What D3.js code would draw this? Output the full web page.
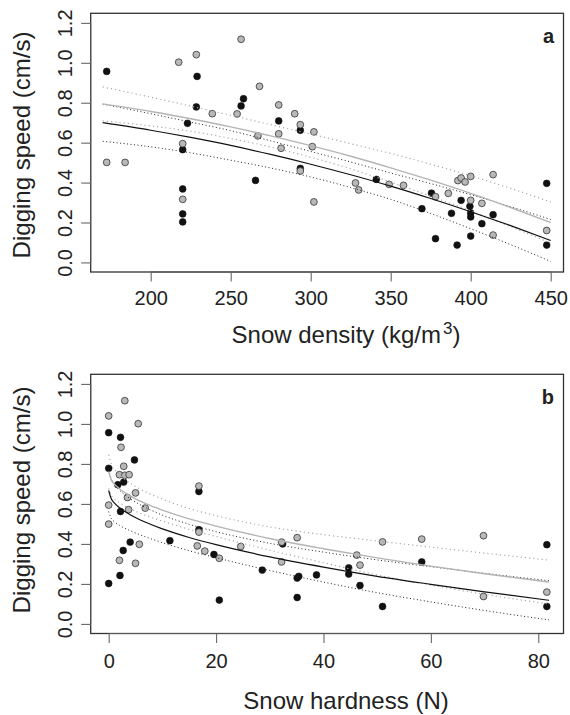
<!DOCTYPE html>
<html>
<head>
<meta charset="utf-8">
<style>
  body { margin: 0; background: #fff; }
  text { font-family: "Liberation Sans", Arial, sans-serif; fill: #222; }
</style>
</head>
<body>
<svg id="chart" width="570" height="715"></svg>
<script src="https://cdn.jsdelivr.net/npm/d3@7"></script>
<script>
// panel a: snow density (kg/m3) vs digging speed (cm/s)
var densBlack = [[172.5,0.957],[229,0.932],[228.5,0.779],[223,0.697],[220,0.565],[220,0.368],[220,0.243],[220,0.203],
  [258,0.82],[256.5,0.784],[280,0.709],[293.5,0.662],[293.5,0.471],[265.5,0.411],[341,0.416],[375.5,0.347],
  [369.5,0.269],[378,0.119],[388,0.246],[394,0.311],[391.5,0.087],[399.5,0.281],[400,0.248],[400,0.228],
  [400,0.132],[407,0.194],[414,0.239],[447.5,0.396],[447.5,0.087]];
var densGray = [[172.5,0.501],[184,0.501],[217.5,1.003],[228.5,1.041],[256.5,1.118],[268,0.882],[238.5,0.745],
  [254,0.744],[220,0.595],[220,0.316],[267,0.634],[280,0.789],[280,0.644],[281.5,0.572],[290,0.745],[293.5,0.69],
  [302,0.654],[301,0.58],[293.5,0.458],[302,0.303],[328,0.398],[330,0.363],[349,0.391],[358,0.386],[378,0.329],
  [386,0.346],[392,0.41],[394,0.423],[396.5,0.403],[400,0.431],[400,0.311],[407,0.296],[414,0.44],[414,0.137],
  [447.5,0.16]];
var densFitX    = [170,200,225,250,275,300,325,350,375,400,425,450];
var densBlackFit = [0.700,0.662,0.626,0.586,0.541,0.492,0.439,0.382,0.320,0.254,0.184,0.110];
var densBlackUp  = [0.793,0.745,0.703,0.660,0.609,0.556,0.503,0.448,0.395,0.339,0.279,0.215];
var densBlackLo  = [0.607,0.579,0.549,0.512,0.473,0.428,0.375,0.316,0.245,0.169,0.089,0.005];
var densGrayFit  = [0.794,0.756,0.720,0.679,0.634,0.585,0.532,0.474,0.412,0.346,0.275,0.200];
var densGrayUp   = [0.879,0.828,0.783,0.737,0.690,0.643,0.595,0.546,0.492,0.434,0.371,0.303];
var densGrayLo   = [0.709,0.684,0.657,0.621,0.578,0.527,0.469,0.402,0.332,0.258,0.179,0.097];
var densTicks = [200,250,300,350,400,450];

// panel b: snow hardness (N) vs digging speed (cm/s)
var hardBlack = [[0,0.956],[2.2,0.933],[4.8,0.82],[0,0.778],[1.7,0.696],[2.8,0.709],[2.2,0.562],[4.0,0.409],
  [2.7,0.367],[2.1,0.242],[0,0.202],[11.4,0.416],[16.8,0.662],[16.8,0.471],[19.6,0.347],[20.6,0.119],[28.6,0.269],
  [32.4,0.40],[35.1,0.229],[35.4,0.238],[35.1,0.132],[38.7,0.245],[44.7,0.28],[44.7,0.249],[46.8,0.192],
  [51.0,0.087],[58.3,0.31],[81.6,0.396],[81.6,0.087]];
var hardGray = [[0,1.04],[3.0,1.116],[5.5,1.001],[2.3,0.883],[2.8,0.788],[2.0,0.746],[3.0,0.743],[3.8,0.746],
  [5.0,0.655],[3.5,0.632],[0,0.594],[3.7,0.571],[6.8,0.579],[0,0.499],[2.0,0.318],[5.7,0.398],[5.0,0.303],
  [16.8,0.689],[16.8,0.459],[16.5,0.39],[17.9,0.364],[20.6,0.328],[24.6,0.387],[32.2,0.409],[35.1,0.431],
  [32.2,0.31],[46.2,0.344],[46.8,0.294],[51.0,0.41],[58.3,0.424],[69.8,0.441],[69.8,0.137],[81.6,0.159]];
var hardFitX     = [0,0.5,1,2,4,7,10,15,20,30,40,50,60,70,82];
var hardBlackFit = [0.667,0.624,0.606,0.581,0.546,0.507,0.475,0.432,0.396,0.335,0.284,0.238,0.198,0.160,0.118];
var hardBlackUp  = [0.772,0.722,0.700,0.669,0.626,0.580,0.544,0.498,0.461,0.403,0.359,0.320,0.286,0.253,0.216];
var hardBlackLo  = [0.562,0.526,0.512,0.493,0.466,0.434,0.406,0.366,0.331,0.267,0.209,0.156,0.110,0.067,0.020];
var hardGrayFit  = [0.762,0.719,0.701,0.676,0.640,0.600,0.569,0.525,0.489,0.427,0.376,0.330,0.289,0.251,0.209];
var hardGrayUp   = [0.846,0.797,0.776,0.746,0.704,0.659,0.624,0.577,0.541,0.485,0.446,0.415,0.384,0.354,0.319];
var hardGrayLo   = [0.678,0.641,0.626,0.606,0.576,0.541,0.514,0.473,0.437,0.369,0.306,0.245,0.194,0.148,0.099];
var hardTicks = [0,20,40,60,80];

var speedTicks = [0,0.2,0.4,0.6,0.8,1.0,1.2];

var svg = d3.select('#chart');
var left = 90.7, right = 563.5;

function panel(p) {
  var x = d3.scaleLinear().domain(p.xDomain).range([left, right]);
  var y = d3.scaleLinear().domain([-0.048, 1.248]).range([p.bottom, p.top]);
  var g = svg.append('g');

  // points: black first, grey on top
  g.selectAll('.blk').data(p.black).enter().append('circle')
    .attr('cx', function(d) { return x(d[0]); })
    .attr('cy', function(d) { return y(d[1]); })
    .attr('r', 3.4)
    .style('fill', '#111').style('stroke', '#111').style('stroke-width', 0.6);
  g.selectAll('.gry').data(p.gray).enter().append('circle')
    .attr('cx', function(d) { return x(d[0]); })
    .attr('cy', function(d) { return y(d[1]); })
    .attr('r', 3.4)
    .style('fill', '#b8b8b8').style('stroke', '#333').style('stroke-width', 0.8);

  // fitted curves and intervals
  var curves = [
    {v: p.grayUp, c: '#aaa', w: 1.2, dash: '1.2,3'},
    {v: p.grayLo, c: '#aaa', w: 1.2, dash: '1.2,3'},
    {v: p.blackUp, c: '#222', w: 1, dash: '1,2.5'},
    {v: p.blackLo, c: '#222', w: 1, dash: '1,2.5'},
    {v: p.grayFit, c: '#b4b4b4', w: 1.4, dash: null},
    {v: p.blackFit, c: '#111', w: 1.2, dash: null}
  ];
  var line = d3.line()
    .x(function(d, i) { return x(p.fitX[i]); })
    .y(function(d) { return y(d); })
    .curve(d3.curveMonotoneX);
  curves.forEach(function(cv) {
    g.append('path').attr('d', line(cv.v))
      .style('fill', 'none').style('stroke', cv.c).style('stroke-width', cv.w)
      .style('stroke-dasharray', cv.dash);
  });

  // box
  g.append('rect').attr('x', left).attr('y', p.top)
    .attr('width', right - left).attr('height', p.bottom - p.top)
    .style('fill', 'none').style('stroke', '#333').style('stroke-width', 1.3);

  // x axis
  var xa = g.append('g').attr('transform', 'translate(0,' + p.bottom + ')')
    .call(d3.axisBottom(x).tickValues(p.xTicks).tickSize(9.5).tickPadding(p.xPad).tickFormat(d3.format('d')));
  xa.select('.domain').attr('stroke', '#555').attr('d', 'M' + x(p.xTicks[0]) + ',0H' + x(p.xTicks[p.xTicks.length - 1]));
  xa.selectAll('.tick line').attr('stroke', '#666').attr('stroke-width', 1.1);
  xa.selectAll('.tick text').style('font-size', '20px').attr('fill', '#222')
    .style('font-family', '"Liberation Sans", Arial, sans-serif');

  // y axis, labels parallel to the axis
  var ya = g.append('g').attr('transform', 'translate(' + left + ',0)')
    .call(d3.axisLeft(y).tickValues(speedTicks).tickSize(9.5).tickFormat(d3.format('.1f')));
  ya.select('.domain').attr('stroke', '#555').attr('d', 'M0,' + y(0) + 'V' + y(1.2));
  ya.selectAll('.tick line').attr('stroke', '#666').attr('stroke-width', 1.1);
  ya.selectAll('.tick text')
    .attr('x', 0).attr('y', -19).attr('dy', 0)
    .attr('transform', 'rotate(-90)')
    .attr('text-anchor', 'middle').attr('fill', '#222')
    .style('font-size', '20px')
    .style('font-family', '"Liberation Sans", Arial, sans-serif');

  // titles
  g.append('text')
    .attr('transform', 'translate(29.5,' + p.yTitleY + ') rotate(-90)')
    .attr('text-anchor', 'middle').style('font-size', '24px')
    .text('Digging speed (cm/s)');
  var xt = g.append('text').attr('x', 346).attr('y', p.xTitleY)
    .attr('text-anchor', 'middle').style('font-size', '24px');
  p.xTitle(xt);

  g.append('text').attr('x', 554).attr('y', p.top + 29.5)
    .attr('text-anchor', 'end').style('font-size', '20px').style('font-weight', 'bold')
    .text(p.letter);
}

panel({
  top: 13.3, bottom: 272, xDomain: [162.5, 458], xTicks: densTicks, xPad: 9.5,
  black: densBlack, gray: densGray, fitX: densFitX,
  blackFit: densBlackFit, blackUp: densBlackUp, blackLo: densBlackLo,
  grayFit: densGrayFit, grayUp: densGrayUp, grayLo: densGrayLo,
  yTitleY: 145, xTitleY: 343, letter: 'a',
  xTitle: function(t) {
    t.append('tspan').text('Snow density (kg/m');
    t.append('tspan').attr('dx', 2).attr('dy', -9).style('font-size', '17px').text('3');
    t.append('tspan').attr('dy', 9).text(')');
  }
});

panel({
  top: 374.3, bottom: 633.5, xDomain: [-3.35, 84.7], xTicks: hardTicks, xPad: 10.5,
  black: hardBlack, gray: hardGray, fitX: hardFitX,
  blackFit: hardBlackFit, blackUp: hardBlackUp, blackLo: hardBlackLo,
  grayFit: hardGrayFit, grayUp: hardGrayUp, grayLo: hardGrayLo,
  yTitleY: 500, xTitleY: 709, letter: 'b',
  xTitle: function(t) { t.text('Snow hardness (N)'); }
});
</script>
</body>
</html>
